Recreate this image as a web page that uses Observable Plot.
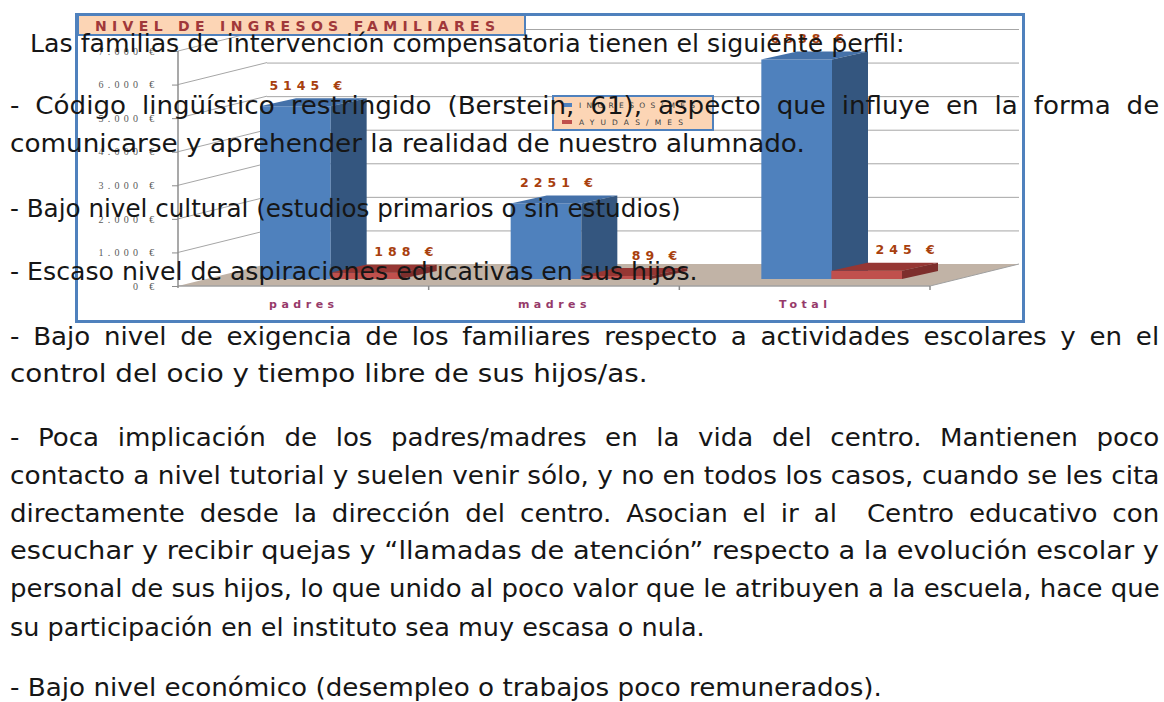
<!DOCTYPE html>
<html>
<head>
<meta charset="utf-8">
<script src="https://cdn.jsdelivr.net/npm/d3@7"></script>
<script src="https://cdn.jsdelivr.net/npm/@observablehq/plot@0.6"></script>
<style>
  html, body { margin: 0; padding: 0; background: #fff; }
  #page { position: relative; width: 1164px; height: 702px; overflow: hidden; background: #fff; }
  #page > svg { position: absolute; left: 0; top: 0; }
</style>
</head>
<body>
<div id="page"></div>
<script>
// ---------------- data ----------------
const categories = ["padres", "madres", "Total"];
const ingresos = [5145, 2251, 6538];
const ayudas = [188, 89, 245];
const seriesNames = ["INGRESOS/MES", "AYUDAS/MES"];
const yTicks = [0, 1000, 2000, 3000, 4000, 5000, 6000, 7000];
const chartTitle = "NIVEL DE INGRESOS FAMILIARES";
const docLines = [
  "Las familias de intervención compensatoria tienen el siguiente perfil:",
  "- Código lingüístico restringido (Berstein, 61), aspecto que influye en la forma de",
  "comunicarse y aprehender la realidad de nuestro alumnado.",
  "- Bajo nivel cultural (estudios primarios o sin estudios)",
  "- Escaso nivel de aspiraciones educativas en sus hijos.",
  "- Bajo nivel de exigencia de los familiares respecto a actividades escolares y en el",
  "control del ocio y tiempo libre de sus hijos/as.",
  "- Poca implicación de los padres/madres en la vida del centro. Mantienen poco",
  "contacto a nivel tutorial y suelen venir sólo, y no en todos los casos, cuando se les cita",
  "directamente desde la dirección del centro. Asocian el ir al  Centro educativo con",
  "escuchar y recibir quejas y “llamadas de atención” respecto a la evolución escolar y",
  "personal de sus hijos, lo que unido al poco valor que le atribuyen a la escuela, hace que",
  "su participación en el instituto sea muy escasa o nula.",
  "- Bajo nivel económico (desempleo o trabajos poco remunerados)."
];

// ---------------- layout (positions / styles) ----------------
const lineLeft     = [30, 10, 10, 10, 10, 10, 10, 10, 10, 10, 10, 10, 10, 10];
const lineRight    = [905, 1160, 805, 681, 698, 1160, 648, 1160, 1160, 1160, 1160, 1160, 705, 882];
const lineBaseline = [52, 114, 152, 217, 280, 345, 382, 446, 484, 522, 559, 597, 636, 696];
const lineTight    = [true, false, true, true, true, false, true, false, true, false, true, true, true, true];

const table = categories.map((c, i) => ({cat: c, ingresos: ingresos[i], ayudas: ayudas[i]}));

const LIFT = -7;            // bars sit slightly behind the floor's front edge
const BAR_DX = 36, BAR_DY = -8;
const WALL_DX = 89, WALL_DY = -22;
const BLUE = {front: "#4f81bd", top: "#4471a9", side: "#34567f"};
const RED  = {front: "#c0504d", top: "#963734", side: "#7d2e2c"};
const NS = "http://www.w3.org/2000/svg";

function el(tag, attrs) {
  const e = document.createElementNS(NS, tag);
  for (const k in attrs) e.setAttribute(k, attrs[k]);
  return e;
}
function poly(g, pts, fill) {
  g.appendChild(el("polygon", {points: pts.map(p => p.join(",")).join(" "), fill}));
}

// floor + left-wall diagonals + axis lines (3D furniture of the chart)
function wallMark(index, scales) {
  const g = el("g", {});
  const x0 = scales.x(categories[0]);
  const bw = scales.x(categories[1]) - scales.x(categories[0]);
  const x1 = scales.x(categories[categories.length - 1]) + bw;
  const y0 = scales.y(0);
  poly(g, [[x0, y0], [x1, y0], [x1 + WALL_DX, y0 + WALL_DY], [x0 + WALL_DX, y0 + WALL_DY]], "#c1b3a6");
  for (const t of yTicks.slice(1)) {
    const y = scales.y(t);
    g.appendChild(el("line", {x1: x0, y1: y, x2: x0 + WALL_DX, y2: y + WALL_DY, stroke: "#a6a6a6", "stroke-width": 1}));
  }
  g.appendChild(el("line", {x1: x0, y1: y0, x2: x1, y2: y0, stroke: "#a0a0a0", "stroke-width": 1.5}));
  g.appendChild(el("line", {x1: x1, y1: y0, x2: x1 + WALL_DX, y2: y0 + WALL_DY, stroke: "#a0a0a0", "stroke-width": 1}));
  g.appendChild(el("line", {x1: x0, y1: y0 + 2, x2: x0, y2: scales.y(yTicks[yTicks.length - 1]), stroke: "#8c8c8c", "stroke-width": 1.5}));
  for (let i = 1; i <= categories.length; i++) {
    const x = x0 + i * bw;
    g.appendChild(el("line", {x1: x, y1: y0, x2: x, y2: y0 + 4, stroke: "#8c8c8c", "stroke-width": 1.5}));
  }
  return g;
}

function facesMark(field, insetLeft, insetRight, colors) {
  return (index, scales) => {
    const g = el("g", {});
    const bw = scales.x(categories[1]) - scales.x(categories[0]);
    const yb = scales.y(0) + LIFT;
    for (const d of table) {
      const xl = scales.x(d.cat) + insetLeft;
      const xr = scales.x(d.cat) + bw - insetRight;
      const yt = scales.y(d[field]) + LIFT;
      poly(g, [[xl, yt], [xr, yt], [xr + BAR_DX, yt + BAR_DY], [xl + BAR_DX, yt + BAR_DY]], colors.top);
      poly(g, [[xr, yt], [xr + BAR_DX, yt + BAR_DY], [xr + BAR_DX, yb + BAR_DY], [xr, yb]], colors.side);
    }
    return g;
  };
}

const euroTick = d => (d === 0 ? "0" : d3.format(",")(d).replace(/,/g, ".")) + " €";
const euroValue = d => d + " €";

const chart = Plot.plot({
  width: 1164,
  height: 330,
  marginLeft: 178,
  marginRight: 234,
  marginTop: 51,
  marginBottom: 44,
  style: {background: "transparent", overflow: "visible"},
  x: {domain: categories, padding: 0, round: false, axis: null},
  y: {domain: [0, 7000], axis: null},
  marks: [
    wallMark,
    Plot.ruleY(yTicks.slice(1), {y: d => d, dx: WALL_DX, dy: WALL_DY, stroke: "#a6a6a6", strokeWidth: 1}),
    Plot.axisY({
      ticks: yTicks, tickFormat: euroTick, tickSize: 6, tickPadding: 14, label: null,
      stroke: "#8c8c8c", fill: "#5a5a5a", fontFamily: "Liberation Serif", fontSize: 10
    }),
    Plot.axisX({
      tickSize: 0, tickPadding: 14, label: null,
      fill: "#963a6a", fontFamily: "DejaVu Sans", fontWeight: "bold", fontSize: 11
    }),
    Plot.barY(table, {x: "cat", y: "ingresos", fill: BLUE.front, insetLeft: 82, insetRight: 98, dy: LIFT}),
    facesMark("ingresos", 82, 98, BLUE),
    Plot.barY(table, {x: "cat", y: "ayudas", fill: RED.front, insetLeft: 152, insetRight: 28, dy: LIFT}),
    facesMark("ayudas", 152, 28, RED),
    Plot.text(table, {
      x: "cat", y: "ingresos", text: d => euroValue(d.ingresos), dx: 2, dy: -28,
      fill: "#a8400e", fontFamily: "DejaVu Sans", fontWeight: "bold", fontSize: 12.5,
      ariaDescription: "value-labels"
    }),
    Plot.text(table, {
      x: "cat", y: "ayudas", text: d => euroValue(d.ayudas), dx: 100, dy: -28,
      fill: "#a8400e", fontFamily: "DejaVu Sans", fontWeight: "bold", fontSize: 12.5,
      ariaDescription: "value-labels"
    })
  ]
});

const page = document.getElementById("page");
page.appendChild(chart);

// stretched look of the embedded chart image: wide letter spacing
chart.querySelectorAll('g[aria-description="value-labels"] text').forEach(t => {
  t.setAttribute("letter-spacing", "5"); t.setAttribute("dx", "2.5");
});
chart.querySelectorAll('g[aria-label="y-axis tick label"]').forEach(g => g.setAttribute("letter-spacing", "4.3"));
chart.querySelectorAll('g[aria-label="x-axis tick label"]').forEach(g => g.setAttribute("letter-spacing", "4.5"));

// ---------------- overlay: chart frame, title box, legend, document text ----------------
const ov = d3.select(page).append("svg").attr("width", 1164).attr("height", 702);

ov.append("rect").attr("x", 76.5).attr("y", 14.5).attr("width", 947).attr("height", 307)
  .attr("fill", "none").attr("stroke", "#4f81bd").attr("stroke-width", 3);

ov.append("rect").attr("x", 78).attr("y", 15).attr("width", 447).attr("height", 20)
  .attr("fill", "#fcd5b5").attr("stroke", "#4f81bd").attr("stroke-width", 2);
ov.append("text").attr("x", 95).attr("y", 31).text(chartTitle)
  .attr("font-family", "DejaVu Sans").attr("font-weight", "bold").attr("font-size", 14)
  .attr("fill", "#a0383a").attr("textLength", 400).attr("lengthAdjust", "spacing");

const lg = ov.append("g");
lg.append("rect").attr("x", 553).attr("y", 96).attr("width", 160).attr("height", 34)
  .attr("fill", "#fcd5b5").attr("stroke", "#4f81bd").attr("stroke-width", 2);
const swatch = [BLUE.front, RED.front];
const legendY = [103, 120];
const legendLen = [116, 104];
seriesNames.forEach((s, i) => {
  lg.append("rect").attr("x", 562).attr("y", legendY[i]).attr("width", 10).attr("height", 4).attr("fill", swatch[i]);
  lg.append("text").attr("x", 579).attr("y", legendY[i] + 4.5).text(s)
    .attr("font-family", "DejaVu Sans").attr("font-size", 7.5).attr("fill", "#404040")
    .attr("textLength", legendLen[i]).attr("lengthAdjust", "spacing");
});

// document body text, drawn over the chart
const tg = ov.append("g").attr("font-family", "DejaVu Sans").attr("font-size", 25).attr("fill", "#161616");
const nodes = docLines.map((s, i) =>
  tg.append("text").attr("x", 0).attr("y", 0).style("white-space", "pre").text(s).node());
const widths = nodes.map(n => n.getComputedTextLength());
const ratios = widths.map((w, i) => (lineRight[i] - lineLeft[i]) / w).filter((r, i) => lineTight[i]);
const sGlobal = d3.median(ratios);
nodes.forEach((n, i) => {
  const target = lineRight[i] - lineLeft[i];
  const w = widths[i];
  const spaces = (docLines[i].match(/ /g) || []).length;
  let s = sGlobal, ws = 0;
  if (lineTight[i] || target / w < sGlobal) { s = target / w; }
  else { ws = (target / s - w) / Math.max(1, spaces); }
  n.setAttribute("word-spacing", ws.toFixed(2));
  n.setAttribute("transform", `translate(${lineLeft[i]},${lineBaseline[i]}) scale(${s.toFixed(4)},1)`);
});
</script>
</body>
</html>
